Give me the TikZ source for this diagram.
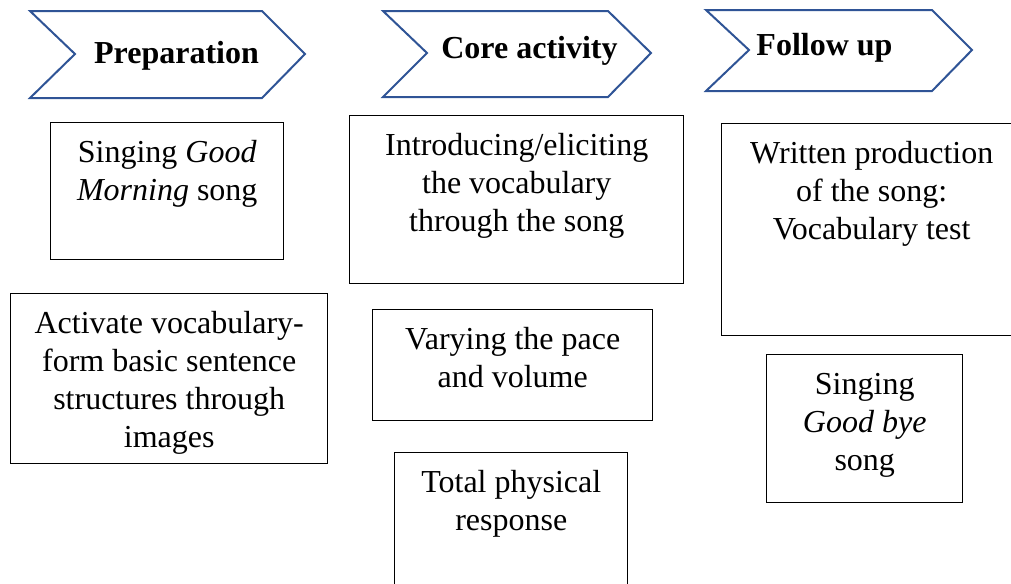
\documentclass[tikz,border=0pt]{standalone}
\usepackage{fontspec}
\setmainfont{Liberation Serif}
\definecolor{chevblue}{RGB}{47,84,150}
\newdimen\pxu \pxu=0.75pt
\newcommand\boxtxt[3]{\parbox[c][#2\pxu][t]{#1\pxu}{\centering\rule{0pt}{30pt}#3}}
\begin{document}
\begin{tikzpicture}[x=0.75pt,y=-0.75pt,
  font=\fontsize{24pt}{28.5pt}\selectfont,
  chevron/.style={draw=chevblue,line width=1.5pt,line join=miter,fill=white},
  chevtext/.style={font=\fontsize{24pt}{28.5pt}\selectfont\bfseries,anchor=base,inner sep=0pt},
  box/.style={draw=black,line width=1.1pt,inner sep=0pt,anchor=north west,fill=white}]
\useasboundingbox (0,0) rectangle (1011,583);
\clip (0,0) rectangle (1011,583);
% chevrons
\draw[chevron] (30,11) -- (262,11) -- (305,54) -- (262,98) -- (30,98) -- (75,54) -- cycle;
\node[chevtext] (h1) at (176.5,63) {Preparation};
\draw[chevron] (383,11) -- (608,11) -- (651,53) -- (608,97) -- (383,97) -- (427,53) -- cycle;
\node[chevtext] (h2) at (529.5,58) {Core activity};
\draw[chevron] (706,10) -- (932,10) -- (972,50) -- (932,91) -- (706,91) -- (749,50) -- cycle;
\node[chevtext] (h3) at (824.5,55) {Follow up};
% boxes
\node[box] (b1) at (50,122) {\boxtxt{233}{137}{Singing \textit{Good}\\\textit{Morning} song}};
\node[box] (b2) at (10,293) {\boxtxt{317}{170}{Activate vocabulary-\\form basic sentence\\structures through\\images}};
\node[box] (b3) at (349,115) {\boxtxt{334}{168}{Introducing/eliciting\\the vocabulary\\through the song}};
\node[box] (b4) at (372,309) {\boxtxt{280}{111}{Varying the pace\\and volume}};
\node[box] (b5) at (394,452) {\boxtxt{233}{148}{Total physical\\response}};
\node[box] (b6) at (721,123) {\boxtxt{300}{212}{Written production\\of the song:\\Vocabulary test}};
\node[box] (b7) at (766,354) {\boxtxt{196}{148}{Singing\\\textit{Good bye}\\song}};
\end{tikzpicture}
\end{document}
